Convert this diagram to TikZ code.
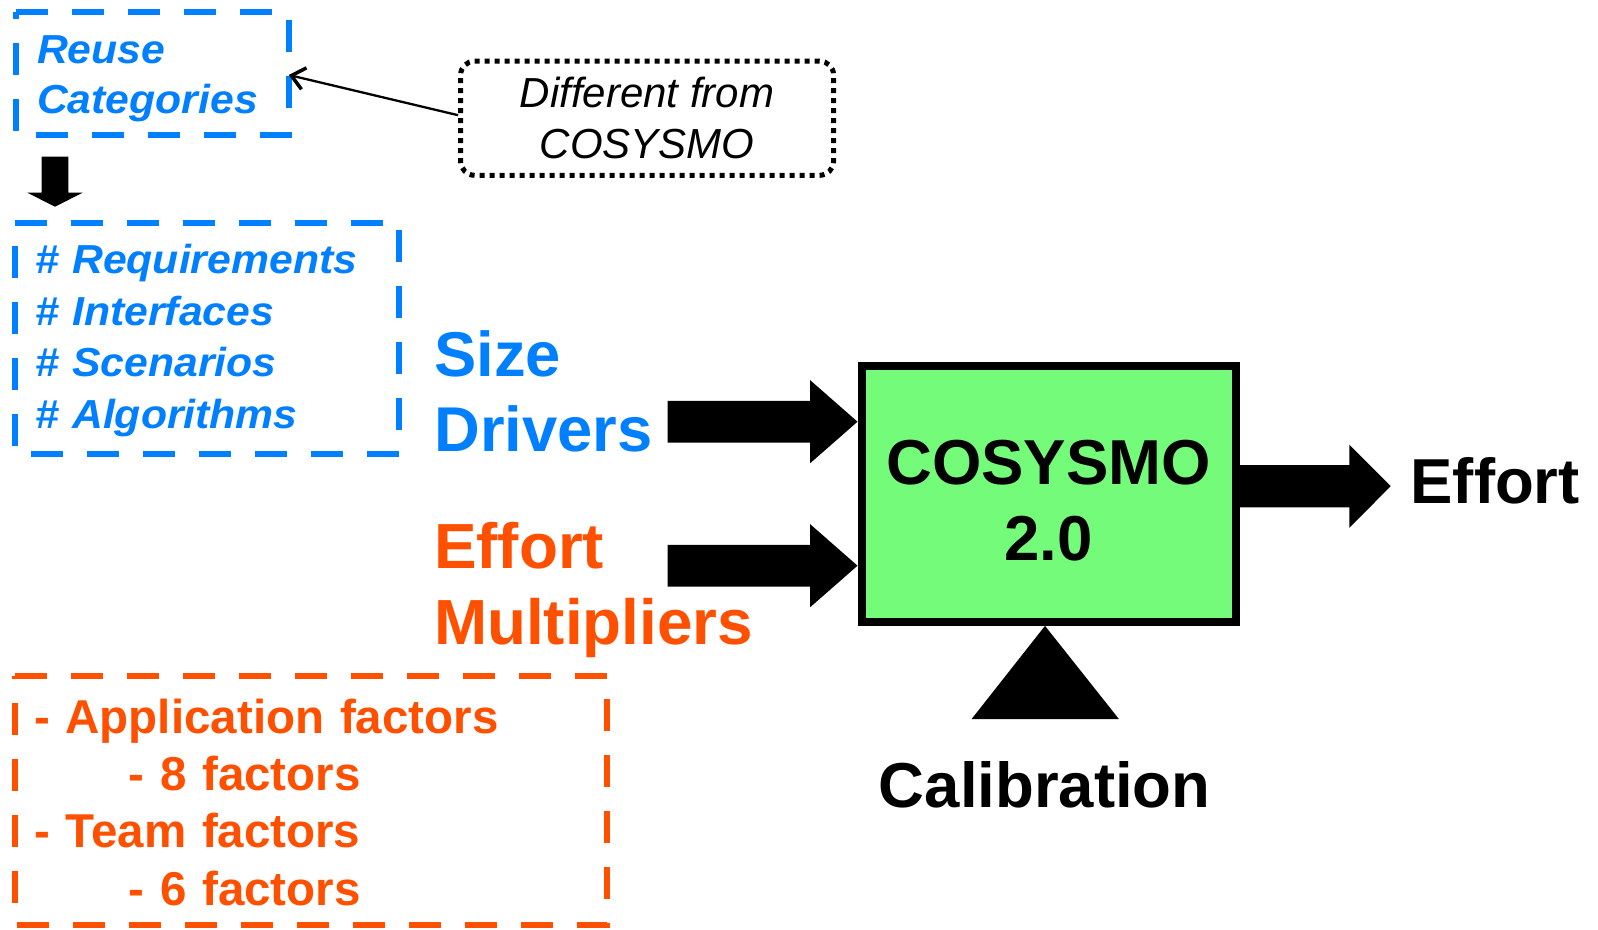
\documentclass[tikz,border=0pt]{standalone}
\usepackage{fontspec}
\setmainfont{Liberation Sans}
\newfontfamily\widesans[FakeStretch=1.055]{Liberation Sans}
\usetikzlibrary{arrows.meta,calc}
\definecolor{rblue}{RGB}{0,128,255}
\definecolor{rorange}{RGB}{255,80,0}
\definecolor{rgreen}{RGB}{116,251,122}
\begin{document}
\begin{tikzpicture}[x=1pt,y=-1pt,
  dashbox/.style={rectangle, draw=none, inner sep=0pt, outer sep=0pt},
  bluedash/.style={draw=rblue, line width=6pt, dash pattern=on 32pt off 24pt},
  orangedash/.style={draw=rorange, line width=6pt, dash pattern=on 32pt off 24pt},
  txt/.style={inner sep=0pt, outer sep=0pt, anchor=base west, align=left},
  reusefont/.style={txt, text=rblue, font=\widesans\fontsize{40.5pt}{50pt}\selectfont\bfseries\itshape},
  reqfont/.style={txt, text=rblue, font=\widesans\fontsize{40.5pt}{51.7pt}\selectfont\bfseries\itshape},
  factfont/.style={txt, text=rorange, font=\fontsize{47.5pt}{57.4pt}\selectfont\bfseries},
  bigblue/.style={txt, text=rblue, font=\fontsize{63.3pt}{75.6pt}\selectfont\bfseries},
  bigorange/.style={txt, text=rorange, font=\fontsize{63.8pt}{76pt}\selectfont\bfseries},
  bigblack/.style={txt, text=black, font=\fontsize{63.5pt}{76.5pt}\selectfont\bfseries},
  notebox/.style={draw=black, line width=5pt, dash pattern=on 5pt off 5pt, rounded corners=14pt,
    align=center, inner sep=0pt, font=\fontsize{42pt}{51pt}\selectfont\itshape},
  modelbox/.style={draw=black, line width=8pt, fill=rgreen, inner sep=0pt},
  thinarrow/.style={draw=black, line width=2.3pt, -{Straight Barb[length=13pt,width=22pt,line width=3.5pt]}},
  blockfill/.style={fill=black}
]
\useasboundingbox (0,0) rectangle (1598,929);
\fill[white] (0,0) rectangle (1598,929);

% dashed boxes
\node[dashbox, minimum width=272.7pt, minimum height=122.5pt] (reuse) at (152.35,73.45) {};
\node[dashbox, minimum width=384.2pt, minimum height=231.7pt] (req) at (207.1,338.35) {};
\node[dashbox, minimum width=592.1pt, minimum height=249.5pt] (factors) at (311.35,800.25) {};
\draw[bluedash] (reuse.north west) -- (reuse.north east) -- (reuse.south east) -- (reuse.south west) -- cycle;
\draw[bluedash] (req.north west) -- (req.north east) -- (req.south east) -- (req.south west) -- cycle;
\draw[orangedash] (factors.north west) -- (factors.north east) -- (factors.south east) -- (factors.south west) -- cycle;

% texts in boxes
\node[reusefont, text width=260pt] (reusetext) at (37,63.5) {Reuse\\Categories};
\node[reqfont, text width=370pt] (reqtext) at (35,273.3) {\# Requirements\\\# Interfaces\\\# Scenarios\\\# Algorithms};
\node[factfont, text width=560pt] (facttext) at (34,733) {- Application factors\\\hspace*{94.4pt}- 8 factors\\- Team factors\\\hspace*{94.4pt}- 6 factors};

% note box
\node[notebox, minimum width=373pt, minimum height=114.2pt] (diff) at (647.1,118.2) {Different from\\COSYSMO};
\draw[thinarrow] ([yshift=3pt]diff.west) -- ([yshift=-1.5pt]reuse.east);

% down arrow
\coordinate (downtip) at ($(req.north west)+(40,-15.8)$);
\fill[blockfill, shift={(downtip)}] (0,0) -- (-27.7,-14) -- (-13.3,-14) -- (-13.3,-50) -- (13.3,-50) -- (13.3,-14) -- (27.7,-14) -- cycle;

% labels
\node[bigblue, text width=300pt] (size) at (434.5,376) {Size\\Drivers};
\node[bigorange, text width=400pt] (mult) at (434,568) {Effort\\Multipliers};

% model box
\node[modelbox, minimum width=374pt, minimum height=255.7pt] (cosy) at (1048.5,494) {};
\node[bigblack, text width=374pt, align=center, anchor=base] (cosytext) at (1048.5,484) {COSYSMO\\2.0};

% block arrows into the model
\coordinate (sdtip) at ([yshift=72.3pt]cosy.west);
\coordinate (emtip) at ([yshift=-71.7pt]cosy.west);
\fill[blockfill, shift={(sdtip)}] (0,0) -- (-47.3,-41.5) -- (-47.3,-20.8) -- (-190,-20.8) -- (-190,20.8) -- (-47.3,20.8) -- (-47.3,41.5) -- cycle;
\fill[blockfill, shift={(emtip)}] (0,0) -- (-47.3,-41.5) -- (-47.3,-20.8) -- (-190,-20.8) -- (-190,20.8) -- (-47.3,20.8) -- (-47.3,41.5) -- cycle;

% output arrow
\coordinate (efftail) at ([yshift=7.8pt]cosy.east);
\fill[blockfill, shift={(efftail)}] (-4,-21.1) -- (109.8,-21.1) -- (109.8,-41.6) -- (151.2,0) -- (109.8,41.6) -- (109.8,21.1) -- (-4,21.1) -- cycle;
\node[bigblack, anchor=base west] (effort) at (1410.5,503.5) {Effort};

% calibration
\coordinate (calapex) at ([xshift=-3.5pt]cosy.south);
\fill[blockfill, shift={(calapex)}] (0,0) -- (74,93.3) -- (-73.5,93.3) -- cycle;
\node[bigblack, anchor=base] (calib) at (1044.7,807) {Calibration};
\end{tikzpicture}
\end{document}
